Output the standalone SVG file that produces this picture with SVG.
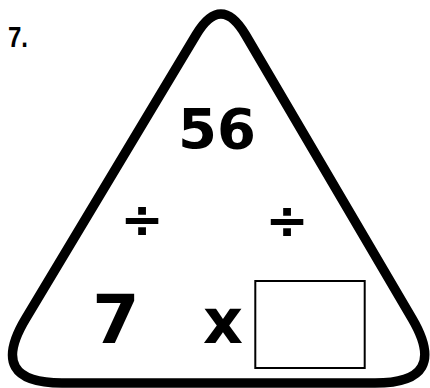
<svg xmlns="http://www.w3.org/2000/svg" width="430" height="388" viewBox="0 0 430 388">
<style>
.big{font-family:"DejaVu Sans",Verdana,sans-serif;font-weight:bold;fill:#000;text-anchor:middle}
.num{font-family:"Liberation Sans",Arial,sans-serif;font-weight:bold;fill:#000}
</style>
<rect width="430" height="388" fill="#fff"/>
<text class="num" x="8" y="47" font-size="29" textLength="20" lengthAdjust="spacingAndGlyphs">7.</text>
<g id="triangle">
<path d="M196,35 Q221,-7 245.6,35 L412,318.3 Q450,383 375,383 L62,383 Q-13,383 25.6,318.7 Z" fill="#fff" stroke="#000" stroke-width="9.5" stroke-linejoin="round"/>
</g>
<g id="top"><text class="big" x="217" y="148" font-size="56">56</text></g>
<g id="div-left"><text class="big" x="142" y="237" font-size="52">÷</text></g>
<g id="div-right"><text class="big" x="287" y="238" font-size="52">÷</text></g>
<g id="left"><text class="big" x="116" y="343" font-size="68">7</text></g>
<g id="times"><text class="big" x="223" y="343" font-size="62">x</text></g>
<g id="answer"><rect x="255.3" y="281" width="109.4" height="87" fill="#fff" stroke="#000" stroke-width="2"/></g>
<g id="connectors"/>
</svg>
